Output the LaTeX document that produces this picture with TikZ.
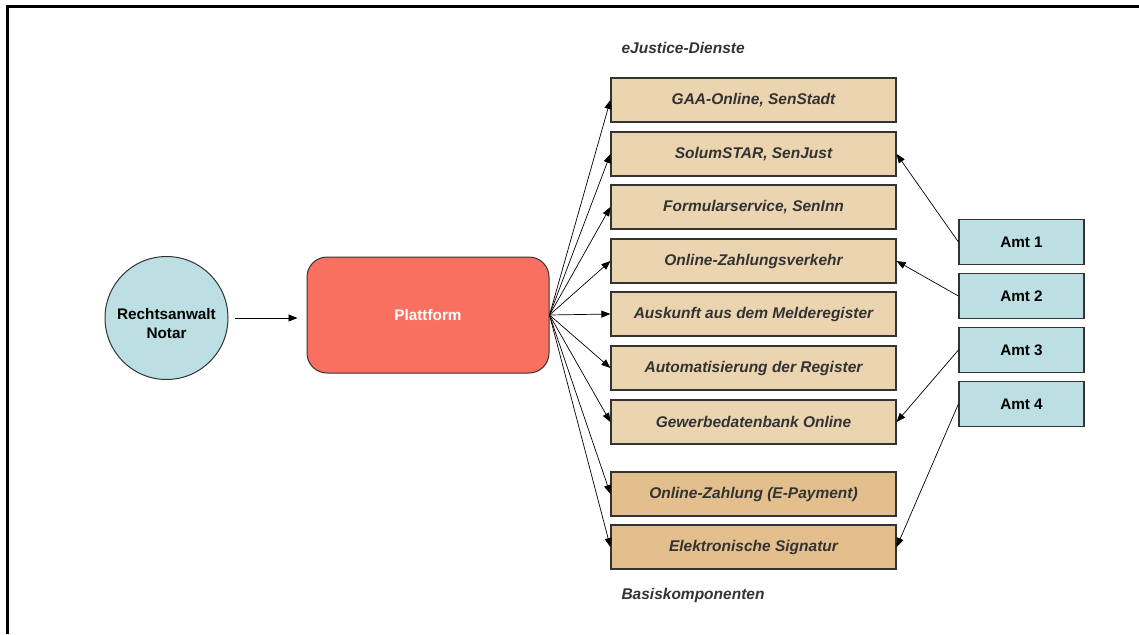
\documentclass[tikz,border=0pt]{standalone}
\usepackage{fontspec}
\setmainfont{Liberation Sans}
\usetikzlibrary{arrows.meta, positioning}
\definecolor{amtblue}{HTML}{BBDFE3}
\definecolor{dienstbeige}{HTML}{EBD4B0}
\definecolor{basisbeige}{HTML}{E2BF8C}
\definecolor{plattred}{HTML}{FA7060}
\definecolor{textgrey}{HTML}{333333}
\newcommand{\dienst}[3]{%
  \node[dienstbox] (#1) at (753.5,#2) {#3};}
\newcommand{\basis}[3]{%
  \node[dienstbox, fill=basisbeige] (#1) at (753.5,#2) {#3};}
\newcommand{\amt}[3]{%
  \node[amtbox] (#1) at (1021.5,#2) {#3};}

\begin{document}
\begin{tikzpicture}[x=1pt, y=-1pt,
  every node/.style={font=\bfseries\fontsize{15.3}{19}\selectfont},
  dienstbox/.style={draw=black!80, line width=1.2pt, fill=dienstbeige,
    minimum width=285pt, minimum height=44pt, inner sep=0pt,
    font=\bfseries\itshape\fontsize{15.5}{18}\selectfont, text=textgrey},
  amtbox/.style={draw=black!80, line width=1.2pt, fill=amtblue,
    minimum width=125pt, minimum height=45pt, inner sep=0pt},
  gruppe/.style={anchor=west, text=textgrey,
    font=\bfseries\itshape\fontsize{15.5}{18}\selectfont},
  pfeil/.style={-{Triangle[length=9pt, width=7pt]}, line width=0.7pt}]
\useasboundingbox (0,0) rectangle (1139,634);
% frame
\draw[line width=3pt] (7,634) -- (7,7) -- (1139,7);
% left side
\node[circle, draw=black!80, line width=1pt, fill=amtblue, minimum size=123pt,
  inner sep=0pt, align=center] (anwalt) at (166.5,318)
  {\rule{0pt}{23pt}Rechtsanwalt\\Notar};
\node[draw=black!80, line width=1pt, fill=plattred, rounded corners=20pt,
  minimum width=242pt, minimum height=116pt, text=white] (platt) at (428,315) {Plattform};
\draw[pfeil] ([xshift=6pt]anwalt.east) -- ([xshift=-9pt]anwalt.east -| platt.west);
% eJustice-Dienste
\node[gruppe] (dlabel) at (618,48) {eJustice-Dienste};
\dienst{gaa}{100}{GAA-Online, SenStadt}
\dienst{solum}{154}{SolumSTAR, SenJust}
\dienst{formular}{207}{Formularservice, SenInn}
\dienst{zahlv}{261}{Online-Zahlungsverkehr}
\dienst{melde}{314}{Auskunft aus dem Melderegister}
\dienst{register}{368}{Automatisierung der Register}
\dienst{gewerbe}{422}{Gewerbedatenbank Online}
% Basiskomponenten
\basis{epay}{494}{Online-Zahlung (E-Payment)}
\basis{signatur}{547}{Elektronische Signatur}
\node[gruppe] (blabel) at (618,595) {Basiskomponenten};
% Aemter
\amt{amt1}{242}{Amt 1}
\amt{amt2}{296}{Amt 2}
\amt{amt3}{350}{Amt 3}
\amt{amt4}{404}{Amt 4}
% Plattform to services
\foreach \d in {gaa,solum,formular,zahlv,melde,register,gewerbe,epay,signatur}
  \draw[pfeil] (platt.east) -- (\d.west);
% Aemter to services
\draw[pfeil] (amt1.west) -- (solum.east);
\draw[pfeil] (amt2.west) -- (zahlv.east);
\draw[pfeil] (amt3.west) -- (gewerbe.east);
\draw[pfeil] (amt4.west) -- (signatur.east);
\end{tikzpicture}
\end{document}
